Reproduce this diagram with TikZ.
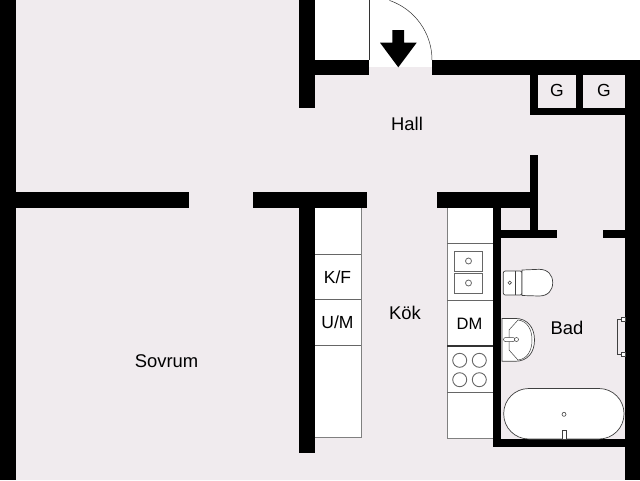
\documentclass[tikz,border=0pt]{standalone}
\usepackage{xcolor}
\usepackage{fontspec}
\setmainfont{Liberation Sans}
\definecolor{floorpink}{HTML}{F0EBEE}
\definecolor{fixline}{HTML}{666666}
\tikzset{
    wall/.style={fill=black, draw=none},
    fixture/.style={draw=black!50, fill=white, line width=0.9pt},
    ware/.style={draw=black!75, fill=white, line width=0.7pt},
    roomlabel/.style={font=\fontsize{18.4}{20}\selectfont, inner sep=0pt},
    unitlabel/.style={font=\fontsize{17.5}{20}\selectfont, inner sep=0pt}
}

\begin{document}
\begin{tikzpicture}[x=1pt, y=-1pt]
    \useasboundingbox (0,0) rectangle (640,480);
    \fill[white] (0,0) rectangle (640,480);

    % floor
    \fill[floorpink] (0,0) -- (299,0) -- (299,67) -- (625,67) -- (625,480) -- (0,480) -- cycle;
    \fill[floorpink] (625,67) rectangle (640,480);

    % kitchen units
    \draw[fixture] (314,207) rectangle (361,437);
    \draw[fixture] (447,207) rectangle (493,438);
    \foreach \y in {254, 299.5, 345.5}
        \draw[fixline, line width=0.9pt] (314,\y) -- (361,\y);
    \foreach \y in {243.5, 300, 392.5}
        \draw[fixline, line width=0.9pt] (447,\y) -- (493,\y);
    \draw[black!80, line width=1.4pt] (447,346) -- (493,346);

    % sink and hob
    \draw[fixline, line width=0.9pt] (454,251) rectangle (482.5,271);
    \draw[fixline, line width=0.9pt] (454,273.5) rectangle (482.5,293.5);
    \draw[fixline, line width=0.8pt] (468.5,261) circle (3);
    \draw[fixline, line width=0.8pt] (468.5,283) circle (3);
    \foreach \x in {459.7, 479.3}
        \foreach \y in {360.3, 379.7}
            \draw[fixline, line width=0.9pt] (\x,\y) circle (7);

    % walls
    \fill[wall] (0,0) rectangle (16,480);
    \fill[wall] (16,192) rectangle (189,207.5);
    \fill[wall] (253,192) rectangle (367,207.5);
    \fill[wall] (437,192) rectangle (538,207.5);
    \fill[wall] (299,0) rectangle (314.5,108);
    \fill[wall] (299,207) rectangle (314.5,453);
    \fill[wall] (314,60) rectangle (369,75);
    \fill[wall] (432,60) rectangle (640,75);
    \fill[wall] (625,60) rectangle (640,480);
    \fill[wall] (530,75) rectangle (538,115);
    \fill[wall] (576,75) rectangle (583,108);
    \fill[wall] (530,107.5) rectangle (625,115);
    \fill[wall] (530,155) rectangle (537.5,232);
    \fill[wall] (493,200) rectangle (500.7,447);
    \fill[wall] (493,439) rectangle (625,447);
    \fill[wall] (500,230) rectangle (557,237.5);
    \fill[wall] (603,230) rectangle (625,237.5);

    % door
    \draw[black!80, line width=0.5pt] (369,0) -- (369,60);
    \draw[black!80, line width=0.5pt] (432,60) arc (0:-71:63);
    \fill[black] (392.4,30) -- (404,30) -- (404,42.7) -- (416.7,42.7) -- (398.3,67.3) -- (380,42.7) -- (392.4,42.7) -- cycle;

    % toilet
    \draw[ware, rounded corners=2pt] (503.3,271) rectangle (522,295);
    \draw[black!75, line width=0.6pt] (515.5,271) -- (515.5,295);
    \draw[ware] (522,270) -- (539,269.3) .. controls (548,269.3) and (552.7,275) .. (552.7,282.7) .. controls (552.7,290.5) and (548,296) .. (539,296) -- (522,295.5) -- cycle;
    \draw[black!75, line width=0.6pt] (509.7,282.7) circle (1.7);

    % basin
    \draw[ware] (502,318.4) -- (515,318.4) .. controls (528,318.4) and (534.5,328) .. (534.5,340) .. controls (534.5,352) and (528,361.3) .. (515,361.3) -- (502,361.3) -- cycle;
    \draw[black!75, line width=0.5pt] (518,320) .. controls (527,321) and (532,329) .. (532,340) .. controls (532,351) and (527,359) .. (518,360) -- (509,350) -- (509,330) -- cycle;
    \draw[ware, line width=0.5pt, rounded corners=2pt] (503.5,337.5) rectangle (515,341.5);
    \draw[ware, line width=0.5pt] (516.5,339.5) circle (2);

    % towel rail
    \draw[black!75, line width=0.6pt] (621.5,319) -- (617.4,319) -- (617.4,354.4) -- (621.5,354.4);
    \draw[ware, line width=0.5pt] (621.4,317.2) rectangle (625,321);
    \draw[ware, line width=0.5pt] (621.4,352.6) rectangle (625,356.4);

    % bath
    \draw[ware, rounded corners=25pt] (503.7,388.5) rectangle (624,439);
    \draw[black!75, line width=0.6pt] (564,414.3) circle (2);
    \draw[ware, line width=0.5pt] (562,430.5) rectangle (566,439);

    % labels
    \node[roomlabel] (hall) at (407,124) {Hall};
    \node[roomlabel] (kok) at (405,313) {Kök};
    \node[roomlabel] (sovrum) at (166.5,361) {Sovrum};
    \node[roomlabel] (bad) at (567,328) {Bad};
    \node[unitlabel] (kf) at (337.5,277) {K/F};
    \node[unitlabel] (um) at (337.5,322) {U/M};
    \node[unitlabel, font=\fontsize{16.5}{20}\selectfont] (dm) at (469.5,324) {DM};
    \node[unitlabel] (gleft) at (557,90.5) {G};
    \node[unitlabel] (gright) at (604,90.5) {G};
\end{tikzpicture}
\end{document}
